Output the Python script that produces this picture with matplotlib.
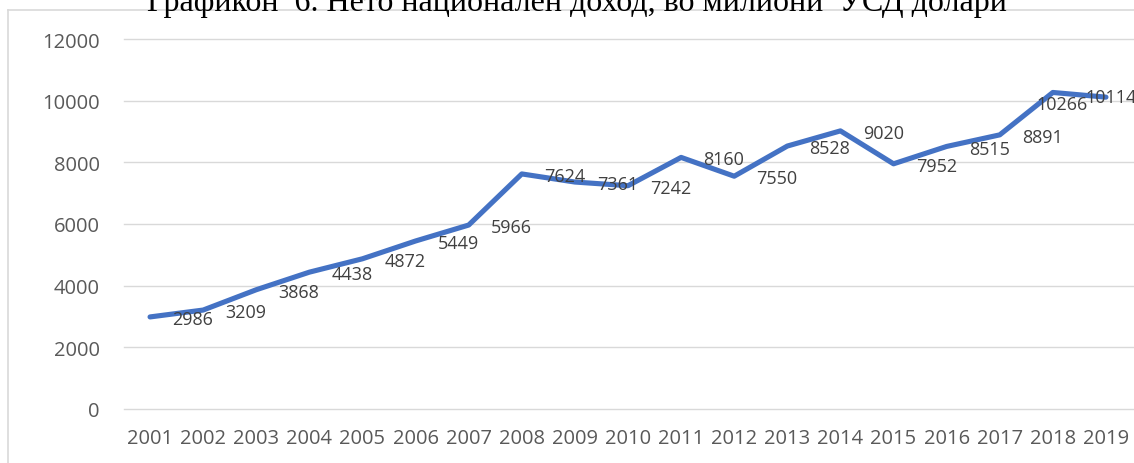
import matplotlib
matplotlib.use("Agg")
import matplotlib.pyplot as plt
from matplotlib.lines import Line2D

years = ["2001", "2002", "2003", "2004", "2005", "2006", "2007", "2008", "2009", "2010",
         "2011", "2012", "2013", "2014", "2015", "2016", "2017", "2018", "2019"]
income = [2986, 3209, 3868, 4438, 4872, 5449, 5966, 7624, 7361, 7242,
          8160, 7550, 8528, 9020, 7952, 8515, 8891, 10266, 10114]
y_ticks = [0, 2000, 4000, 6000, 8000, 10000, 12000]
title = "Графикон  6. Нето национален доход, во милиони  УСД долари"

W, H = 1134, 464
fig = plt.figure(figsize=(W / 100, H / 100), dpi=100)
fig.patch.set_facecolor("white")

ax = fig.add_axes([123.5 / W, 54 / H, 1009 / W, 370 / H])
x = list(range(len(years)))
ax.plot(x, income, color="#4472C4", linewidth=3.7,
        solid_capstyle="round", solid_joinstyle="round", zorder=3)

ax.set_xlim(-0.5, len(years) - 0.5)
ax.set_ylim(0, 12000)
ax.set_yticks(y_ticks)
ax.set_xticks(x)
ax.set_xticklabels(years)
for s in ax.spines.values():
    s.set_visible(False)
ax.grid(axis="y", color="#d9d9d9", linewidth=1.0)
for gl in ax.get_ygridlines():
    gl.set_clip_on(False)
ax.set_axisbelow(True)
ax.tick_params(length=0, labelcolor="#595959", labelsize=14.5)
ax.tick_params(axis="y", pad=17)
ax.tick_params(axis="x", pad=14)
for lbl in ax.get_xticklabels() + ax.get_yticklabels():
    lbl.set_fontfamily("Open Sans")

# data labels sit to the right of each point; the last two are nudged
for i, v in enumerate(income):
    if i == len(income) - 2:
        off, ha = (6.5, -8.6), "center"
    elif i == len(income) - 1:
        off, ha = (-15, 0), "left"
    else:
        off, ha = (16, -1.5), "left"
    ax.annotate(str(v), (i, v), xytext=off, textcoords="offset points",
                ha=ha, va="center", fontsize=13, color="#404040",
                family="Open Sans", annotation_clip=False, zorder=4)

# chart frame (left and top edges only)
bx, by = 8 / W, 1 - 11 / H
fig.add_artist(Line2D([bx, bx], [0, by], transform=fig.transFigure,
                      color="#d9d9d9", linewidth=1.2))
fig.add_artist(Line2D([bx, 1], [by, by], transform=fig.transFigure,
                      color="#d9d9d9", linewidth=1.2))

fig.text(576.5 / W, 1 - 10.5 / H, title, ha="center", va="baseline",
         fontsize=23, family="Liberation Serif", color="black", zorder=5)

fig.savefig("out.png", dpi=100)
plt.close(fig)
